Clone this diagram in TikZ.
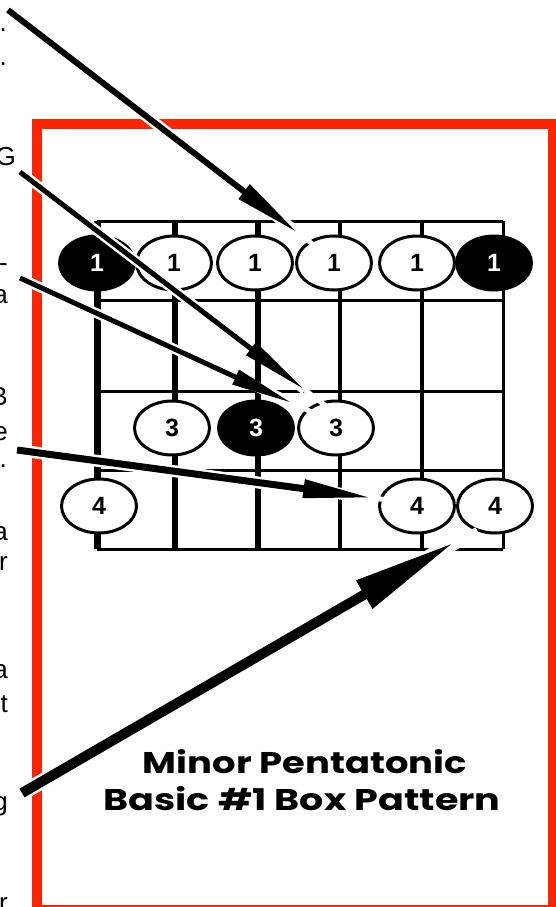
\documentclass[tikz,border=0pt]{standalone}
\usepackage{fontspec}
\setmainfont{Liberation Sans}
\newfontfamily\titlefont{Poppins}
\usetikzlibrary{shapes.geometric,arrows.meta,calc}
\definecolor{framered}{RGB}{255,36,0}
\begin{document}
\begin{tikzpicture}[x=1pt,y=-1pt,
  note/.style={ellipse, draw, line width=3pt, fill=white, minimum width=75pt,
    minimum height=54pt, inner sep=0pt, font=\fontsize{25}{25}\selectfont\bfseries},
  root/.style={note, fill=black, text=white},
  fret/.style={line width=3pt},
  halo/.style={draw=white},
  margin/.style={anchor=base east, inner sep=0pt, font=\fontsize{26}{26}\selectfont},
  title/.style={anchor=base, inner sep=0pt, font=\titlefont\bfseries\fontsize{28}{28}\selectfont}]
\useasboundingbox (0,0) rectangle (555,907);

% cut-off text along the left margin
\node[margin] (m1) at (7,32) {.};
\node[margin] (m2) at (7,66) {.};
\node[margin] (m3) at (16,165) {G};
\node[margin] (m4) at (8,271) {-};
\node[margin] (m5) at (8,303) {a};
\node[margin] (m6) at (8,405) {B};
\node[margin] (m7) at (8,440) {e};
\node[margin] (m8) at (7,467) {.};
\node[margin] (m9) at (8,540) {a};
\node[margin] (m10) at (8,570) {r};
\node[margin] (m11) at (8,678) {a};
\node[margin] (m12) at (8,712) {t};
\node[margin] (m13) at (8,810) {g};
\node[margin] (m14) at (8,911) {r};

% red frame
\draw[framered, line width=10pt] (37,124) rectangle (553,910);

% frets
\foreach \y in {221,300,391,470,549}
  \draw[fret] (97,\y) -- (503,\y);
% strings, heaviest on the left
\foreach \x/\w in {97/7,175/6.5,258/5.5,340/4.5,422/4,503/3}
  \draw[line width=\w pt] (\x,221) -- (\x,549);

% notes of the box pattern
\node[root] (r1a) at (97,263) {1};
\node[note] (r1b) at (174,263) {1};
\node[note] (r1c) at (255,263) {1};
\node[note] (r1d) at (334,263) {1};
\node[note] (r1e) at (417,263) {1};
\node[root] (r1f) at (494,263) {1};
\node[note] (r3a) at (172,428) {3};
\node[root] (r3b) at (256,428) {3};
\node[note] (r3c) at (336,428) {3};
\node[note] (r4a) at (99,506) {4};
\node[note] (r4b) at (417,506) {4};
\node[note] (r4c) at (495,506) {4};

% pointer arrows with white knock-out halos
\coordinate (a1s) at (8,10);    \coordinate (a1t) at (298,233);
\coordinate (a2s) at (20,172);  \coordinate (a2t) at (305,390);
\coordinate (a3s) at (20,278);  \coordinate (a3t) at (292,403);
\coordinate (a4s) at (17,450);  \coordinate (a4t) at (373,498);
\coordinate (a5s) at (22,793);  \coordinate (a5t) at (455,542);

\foreach \s/\t/\w/\l/\b/\e in {a1s/a1t/6/68/17/40, a2s/a2t/5/68/15/30,
    a3s/a3t/5/62/15/30, a4s/a4t/7/70/17/12, a5s/a5t/10/105/30/25}{
  \draw[halo, line width=\w pt+5pt] (\s) -- (\t);
  \draw[halo, line width=5pt] (\t) -- ($(\t)!-\e pt!(\s)$);
  \draw[line width=\w pt, -{Triangle[length=\l pt,width=\b pt]}] (\s) -- (\t);
}

% caption
\node[title] (t1) at (305,773) {\resizebox{324pt}{24pt}{Minor Pentatonic}};
\node[title] (t2) at (302,810) {\resizebox{397pt}{24pt}{Basic \#1 Box Pattern}};
\end{tikzpicture}
\end{document}
